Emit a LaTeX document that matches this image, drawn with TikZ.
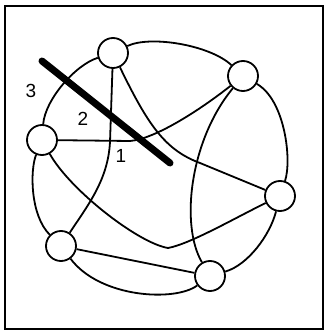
\documentclass[tikz,border=0pt]{standalone}
\usepackage{fontspec}
\setmainfont{Liberation Sans}
\begin{document}
\begin{tikzpicture}[x=1pt,y=1pt,
  vtx/.style={circle,draw,line width=1.8pt,fill=white,minimum size=30pt,inner sep=0pt},
  edge/.style={line width=1.8pt},
  lbl/.style={font=\fontsize{19}{19}\selectfont,inner sep=0pt},
  cutline/.style={line width=7pt,line cap=round}]
\useasboundingbox (0,0) rectangle (324,330);
\draw[line width=1.8pt] (5,1) rectangle (323,324);
% helper coordinates
\coordinate (J1) at (110,188);
\coordinate (J2) at (130,189);
\coordinate (J3) at (200,167);
\coordinate (J4) at (168,82);
\coordinate (S1) at (42,269);
\coordinate (S2) at (170,167);
% vertices
\node[vtx] (T)  at (113,277) {};
\node[vtx] (TR) at (243,254) {};
\node[vtx] (L)  at (42,190) {};
\node[vtx] (R)  at (280,134) {};
\node[vtx] (BL) at (61,84) {};
\node[vtx] (B)  at (210,54) {};
% outer ring
\draw[edge] (T) .. controls (150,295) and (210,285) .. (TR);
\draw[edge] (TR) .. controls (285,230) and (292,170) .. (R);
\draw[edge] (R) .. controls (270,95) and (248,65) .. (B);
\draw[edge] (B) .. controls (175,28) and (100,32) .. (BL);
\draw[edge] (BL) .. controls (30,115) and (30,160) .. (L);
\draw[edge] (L) .. controls (45,230) and (75,265) .. (T);
% inner edges
\draw[edge] (T) -- (J1) .. controls (108,150) and (88,125) .. (BL);
\draw[edge] (L) -- (J2) .. controls (155,191) and (200,220) .. (TR);
\draw[edge] (T) .. controls (148,205) and (165,180) .. (J3) -- (R);
\draw[edge] (TR) .. controls (190,190) and (180,105) .. (B);
\draw[edge] (L) .. controls (70,140) and (138,87) .. (J4) .. controls (190,86) and (235,112) .. (R);
\draw[edge] (BL) -- (B);
% cut line
\draw[cutline] (S1) -- (S2);
% labels
\node[lbl] (n3) at (31,239) {3};
\node[lbl] (n2) at (83,211) {2};
\node[lbl] (n1) at (121,174) {1};
\end{tikzpicture}
\end{document}
